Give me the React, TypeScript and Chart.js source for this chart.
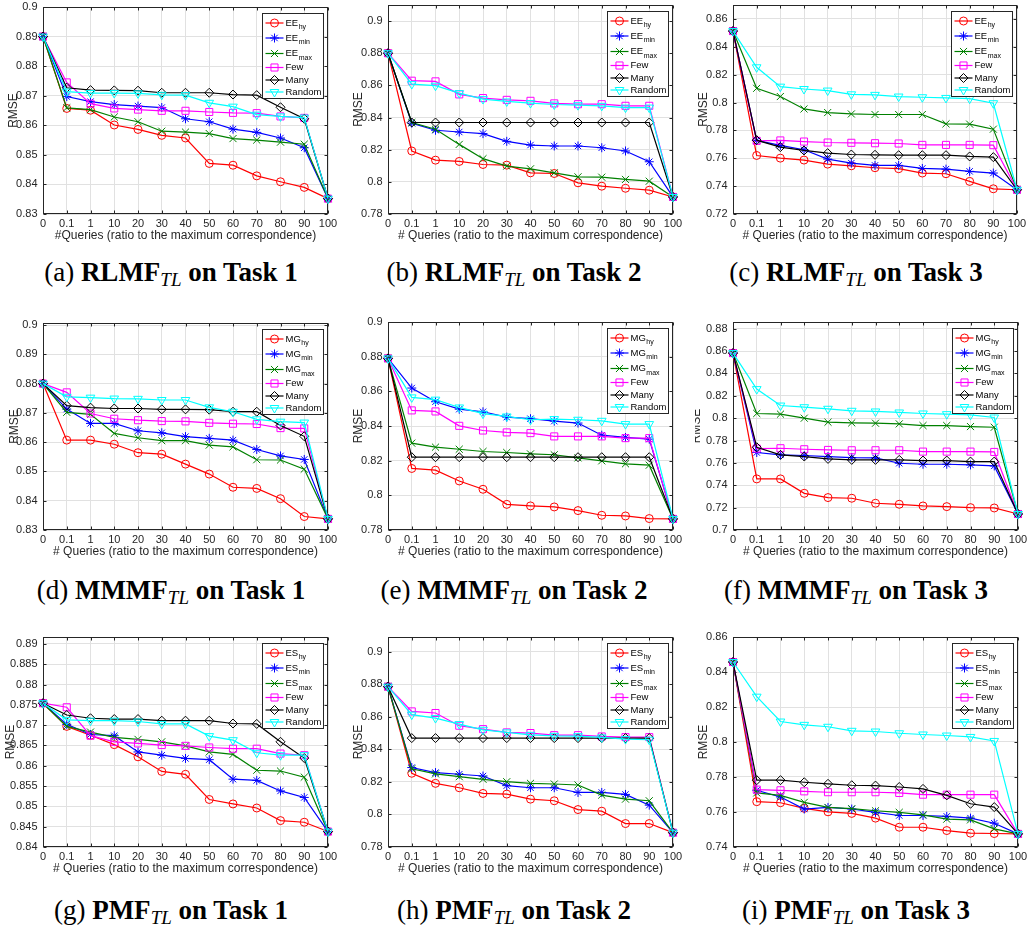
import React, { useEffect, useRef } from 'react';
import { Chart, registerables } from 'chart.js';

Chart.register(...registerables);

const queryLabels = ['0', '0.1', '1', '10', '20', '30', '40', '50', '60', '70', '80', '90', '100'];

const yTicksA = [0.83, 0.84, 0.85, 0.86, 0.87, 0.88, 0.89, 0.9];
const yTicksB = [0.78, 0.8, 0.82, 0.84, 0.86, 0.88, 0.9];
const yTicksC = [0.72, 0.74, 0.76, 0.78, 0.8, 0.82, 0.84, 0.86];
const yTicksF = [0.7, 0.72, 0.74, 0.76, 0.78, 0.8, 0.82, 0.84, 0.86, 0.88];
const yTicksG = [0.84, 0.845, 0.85, 0.855, 0.86, 0.865, 0.87, 0.875, 0.88, 0.885, 0.89];
const yTicksI = [0.74, 0.76, 0.78, 0.8, 0.82, 0.84, 0.86];

// (a) RLMF Task 1
const a_hy = [0.89, 0.8657, 0.8651, 0.8601, 0.8586, 0.8566, 0.8557, 0.8471, 0.8465, 0.8429, 0.8409, 0.839, 0.8352];
const a_min = [0.89, 0.8697, 0.868, 0.867, 0.8665, 0.866, 0.8622, 0.8612, 0.8587, 0.8576, 0.8557, 0.8524, 0.8352];
const a_max = [0.89, 0.8659, 0.8653, 0.8628, 0.8612, 0.858, 0.8577, 0.8572, 0.8555, 0.855, 0.8543, 0.8536, 0.8352];
const a_few = [0.89, 0.8745, 0.8673, 0.8657, 0.8653, 0.8649, 0.8649, 0.8645, 0.8642, 0.8641, 0.863, 0.8625, 0.8352];
const a_many = [0.89, 0.8727, 0.8719, 0.8718, 0.8717, 0.871, 0.871, 0.871, 0.8704, 0.8702, 0.8661, 0.8622, 0.8352];
const a_rand = [0.89, 0.8714, 0.8709, 0.8709, 0.8708, 0.8703, 0.8702, 0.8676, 0.8663, 0.8636, 0.863, 0.8626, 0.8352];

// (b) RLMF Task 2
const b_hy = [0.88, 0.8192, 0.8135, 0.8127, 0.8108, 0.8104, 0.8056, 0.8052, 0.7994, 0.7973, 0.796, 0.7948, 0.7906];
const b_min = [0.88, 0.8365, 0.8321, 0.831, 0.83, 0.8252, 0.8229, 0.8223, 0.8223, 0.8212, 0.8192, 0.8125, 0.7906];
const b_max = [0.88, 0.8369, 0.8327, 0.8233, 0.8144, 0.8098, 0.8081, 0.8056, 0.8031, 0.8029, 0.8015, 0.8004, 0.7906];
const b_few = [0.88, 0.8629, 0.8625, 0.8544, 0.8521, 0.851, 0.8504, 0.8488, 0.8483, 0.8483, 0.8473, 0.8473, 0.7906];
const b_many = [0.88, 0.8369, 0.8369, 0.8369, 0.8369, 0.8369, 0.8369, 0.8369, 0.8369, 0.8369, 0.8369, 0.8369, 0.7906];
const b_rand = [0.88, 0.8608, 0.8598, 0.8552, 0.8515, 0.85, 0.849, 0.8481, 0.8477, 0.8473, 0.8462, 0.8462, 0.7906];

// (c) RLMF Task 3
const c_hy = [0.8513, 0.762, 0.7601, 0.7587, 0.7558, 0.7546, 0.7532, 0.7525, 0.7494, 0.7489, 0.7434, 0.7381, 0.7374];
const c_min = [0.8513, 0.7728, 0.7692, 0.7661, 0.7594, 0.7565, 0.7549, 0.7549, 0.7527, 0.7522, 0.7506, 0.7494, 0.7374];
const c_max = [0.8513, 0.8102, 0.8043, 0.7954, 0.7928, 0.7918, 0.7914, 0.7914, 0.7914, 0.7847, 0.7845, 0.7809, 0.7374];
const c_few = [0.8513, 0.7725, 0.7728, 0.772, 0.7713, 0.7711, 0.7708, 0.7706, 0.7696, 0.7696, 0.7696, 0.7694, 0.7374];
const c_many = [0.8513, 0.773, 0.768, 0.7656, 0.7637, 0.7627, 0.7625, 0.7622, 0.7622, 0.7622, 0.7613, 0.7608, 0.7374];
const c_rand = [0.8513, 0.8253, 0.8114, 0.8097, 0.8086, 0.8059, 0.8055, 0.8043, 0.8038, 0.8033, 0.8028, 0.7995, 0.7374];

// (d) MMMF Task 1
const d_hy = [0.88, 0.8607, 0.8607, 0.8593, 0.8564, 0.8559, 0.8525, 0.8491, 0.8446, 0.8442, 0.8407, 0.8346, 0.8338];
const d_min = [0.88, 0.8713, 0.8664, 0.8664, 0.8639, 0.8632, 0.8619, 0.8613, 0.8607, 0.8575, 0.8553, 0.8541, 0.8338];
const d_max = [0.88, 0.8702, 0.8695, 0.863, 0.8615, 0.8605, 0.8605, 0.859, 0.8584, 0.854, 0.8539, 0.8508, 0.8338];
const d_few = [0.88, 0.877, 0.8698, 0.868, 0.8675, 0.8672, 0.8671, 0.8666, 0.8663, 0.8662, 0.8648, 0.8647, 0.8338];
const d_many = [0.88, 0.8725, 0.8718, 0.8715, 0.8715, 0.8712, 0.8712, 0.8711, 0.8704, 0.8704, 0.8657, 0.862, 0.8338];
const d_rand = [0.88, 0.8755, 0.8752, 0.8749, 0.8748, 0.8744, 0.8744, 0.8719, 0.8704, 0.8678, 0.867, 0.8667, 0.8338];

// (e) MMMF Task 2
const e_hy = [0.879, 0.8155, 0.8145, 0.8083, 0.8035, 0.7948, 0.7939, 0.7933, 0.7912, 0.7885, 0.7881, 0.7866, 0.7864];
const e_min = [0.879, 0.8619, 0.854, 0.8497, 0.8482, 0.8451, 0.8442, 0.8428, 0.8417, 0.8347, 0.8334, 0.8324, 0.7864];
const e_max = [0.879, 0.8301, 0.8278, 0.8266, 0.8253, 0.8247, 0.8239, 0.8234, 0.8216, 0.8199, 0.8182, 0.8174, 0.7864];
const e_few = [0.879, 0.849, 0.8484, 0.8401, 0.8374, 0.8363, 0.8359, 0.834, 0.834, 0.834, 0.833, 0.833, 0.7864];
const e_many = [0.879, 0.822, 0.822, 0.822, 0.822, 0.822, 0.822, 0.822, 0.822, 0.822, 0.822, 0.822, 0.7864];
const e_rand = [0.879, 0.8565, 0.8552, 0.8507, 0.8471, 0.8455, 0.8436, 0.844, 0.8436, 0.843, 0.8411, 0.8411, 0.7864];

// (f) MMMF Task 3
const f_hy = [0.8582, 0.7457, 0.7457, 0.7328, 0.729, 0.7284, 0.7239, 0.723, 0.7215, 0.7209, 0.72, 0.7197, 0.7143];
const f_min = [0.8582, 0.7693, 0.7672, 0.7666, 0.7657, 0.7648, 0.7645, 0.7597, 0.7588, 0.7588, 0.7582, 0.7573, 0.7143];
const f_max = [0.8582, 0.8042, 0.8036, 0.8, 0.7964, 0.7958, 0.7955, 0.7949, 0.7934, 0.7934, 0.7925, 0.7919, 0.7143];
const f_few = [0.8582, 0.7728, 0.7731, 0.7722, 0.7716, 0.7713, 0.7713, 0.7713, 0.7701, 0.7701, 0.7701, 0.7698, 0.7143];
const f_many = [0.8582, 0.774, 0.7672, 0.7657, 0.7636, 0.7627, 0.7627, 0.7627, 0.7621, 0.7621, 0.7612, 0.7612, 0.7143];
const f_rand = [0.8582, 0.826, 0.8113, 0.8098, 0.8084, 0.8066, 0.806, 0.8051, 0.8042, 0.8036, 0.803, 0.8006, 0.7143];

// (g) PMF Task 1
const g_hy = [0.8754, 0.8697, 0.8675, 0.8652, 0.8622, 0.8586, 0.8579, 0.8517, 0.8506, 0.8496, 0.8465, 0.8461, 0.8438];
const g_min = [0.8754, 0.8702, 0.8677, 0.8674, 0.8634, 0.8626, 0.8618, 0.8615, 0.8567, 0.8564, 0.8538, 0.8522, 0.8438];
const g_max = [0.8754, 0.8697, 0.8683, 0.867, 0.8665, 0.8659, 0.8649, 0.8634, 0.8628, 0.8589, 0.8587, 0.8572, 0.8438];
const g_few = [0.8754, 0.8744, 0.8674, 0.8659, 0.8655, 0.8651, 0.8649, 0.8645, 0.8642, 0.8642, 0.863, 0.8626, 0.8438];
const g_many = [0.8754, 0.8725, 0.8717, 0.8715, 0.8715, 0.8711, 0.8711, 0.8711, 0.8704, 0.8703, 0.8659, 0.8619, 0.8438];
const g_rand = [0.8754, 0.8713, 0.8711, 0.8711, 0.8709, 0.8703, 0.8703, 0.8673, 0.8663, 0.8632, 0.8626, 0.8626, 0.8438];

// (h) PMF Task 2
const h_hy = [0.8785, 0.8253, 0.8191, 0.8164, 0.8129, 0.8125, 0.8094, 0.8084, 0.803, 0.802, 0.7944, 0.7944, 0.7888];
const h_min = [0.8785, 0.8288, 0.8257, 0.8247, 0.8236, 0.8177, 0.8164, 0.8164, 0.8135, 0.8135, 0.8123, 0.8057, 0.7888];
const h_max = [0.8785, 0.828, 0.8249, 0.8232, 0.8216, 0.8201, 0.8191, 0.8187, 0.8181, 0.8119, 0.8094, 0.8084, 0.7888];
const h_few = [0.8785, 0.8633, 0.8623, 0.8545, 0.8524, 0.8504, 0.85, 0.8487, 0.8487, 0.8479, 0.8475, 0.8475, 0.7888];
const h_many = [0.8785, 0.8469, 0.8469, 0.8469, 0.8469, 0.8469, 0.8469, 0.8469, 0.8469, 0.8469, 0.8469, 0.8469, 0.7888];
const h_rand = [0.8785, 0.8613, 0.8592, 0.8555, 0.852, 0.8504, 0.8489, 0.8483, 0.8481, 0.8473, 0.8463, 0.8459, 0.7888];

// (i) PMF Task 3
const i_hy = [0.8457, 0.7659, 0.7653, 0.7621, 0.7601, 0.7592, 0.7565, 0.7513, 0.7513, 0.7494, 0.7479, 0.7477, 0.7475];
const i_min = [0.8457, 0.7724, 0.7686, 0.7617, 0.7626, 0.7617, 0.7598, 0.758, 0.758, 0.7575, 0.7565, 0.7536, 0.7475];
const i_max = [0.8457, 0.7709, 0.7695, 0.7655, 0.7626, 0.7619, 0.7607, 0.7598, 0.7584, 0.7559, 0.7555, 0.7504, 0.7475];
const i_few = [0.8457, 0.7728, 0.7724, 0.7718, 0.7713, 0.7713, 0.7713, 0.7709, 0.7699, 0.7699, 0.7699, 0.7699, 0.7475];
const i_many = [0.8457, 0.7782, 0.7782, 0.777, 0.7761, 0.7753, 0.7751, 0.7743, 0.7732, 0.7695, 0.7647, 0.7628, 0.7475];
const i_rand = [0.8457, 0.8259, 0.8117, 0.8098, 0.8087, 0.8064, 0.806, 0.805, 0.8043, 0.8037, 0.8029, 0.8006, 0.7475];

const seriesSubs = ['hy', 'min', 'max'];
const seriesPlain = ['Few', 'Many', 'Random'];
const captionLetters = ['a', 'b', 'c', 'd', 'e', 'f', 'g', 'h', 'i'];
const captionModels = ['RLMF', 'RLMF', 'RLMF', 'MMMF', 'MMMF', 'MMMF', 'PMF', 'PMF', 'PMF'];
const captionTasks = ['1', '2', '3', '1', '2', '3', '1', '2', '3'];

const SANS = '"Liberation Sans", Arial, Helvetica, sans-serif';
const SERIF = '"Liberation Serif", "Times New Roman", Times, serif';
const AXIS = '#262626';
const GRID = '#e1e1e1';

const colors = ['#ff0000', '#0000ff', '#008000', '#ff00ff', '#000000', '#00ffff'];
const pointStyles = ['circle', 'star', 'crossRot', 'rect', 'rectRot', 'triangle'];
const pointRotations = [0, 0, 0, 0, 0, 180];
const pointRadii = [4, 4.5, 5, 5, 4.5, 5];

type PanelSpec = {
  series: number[][];
  prefix: string;
  yTicks: number[];
  yMin: number;
  yMax: number;
  l: number;
  r: number;
  t: number;
  b: number;
  canvasLeft: number;
  yTitlePad: number;
  xTitle: string;
};

const XT1 = '#Queries (ratio to the maximum correspondence)';
const XT = '# Queries (ratio to the maximum correspondence)';

const panels: PanelSpec[] = [
  { series: [a_hy, a_min, a_max, a_few, a_many, a_rand], prefix: 'EE', yTicks: yTicksA, yMin: 0.83, yMax: 0.9, l: 43, r: 328, t: 7, b: 214, canvasLeft: 0, yTitlePad: 6, xTitle: XT1 },
  { series: [b_hy, b_min, b_max, b_few, b_many, b_rand], prefix: 'EE', yTicks: yTicksB, yMin: 0.78, yMax: 0.91, l: 388, r: 673, t: 5, b: 214, canvasLeft: 345, yTitlePad: 6, xTitle: XT },
  { series: [c_hy, c_min, c_max, c_few, c_many, c_rand], prefix: 'EE', yTicks: yTicksC, yMin: 0.72, yMax: 0.87, l: 733, r: 1017, t: 5, b: 214, canvasLeft: 690, yTitlePad: 6, xTitle: XT },
  { series: [d_hy, d_min, d_max, d_few, d_many, d_rand], prefix: 'MG', yTicks: yTicksA, yMin: 0.83, yMax: 0.9007, l: 43, r: 328, t: 323, b: 530, canvasLeft: 0, yTitlePad: 7, xTitle: XT },
  { series: [e_hy, e_min, e_max, e_few, e_many, e_rand], prefix: 'MG', yTicks: yTicksB, yMin: 0.78, yMax: 0.9, l: 388, r: 673, t: 322, b: 530, canvasLeft: 345, yTitlePad: 6, xTitle: XT },
  { series: [f_hy, f_min, f_max, f_few, f_many, f_rand], prefix: 'MG', yTicks: yTicksF, yMin: 0.7, yMax: 0.886, l: 733, r: 1018, t: 322, b: 530, canvasLeft: 695, yTitlePad: -5.2, xTitle: XT },
  { series: [g_hy, g_min, g_max, g_few, g_many, g_rand], prefix: 'ES', yTicks: yTicksG, yMin: 0.84, yMax: 0.8917, l: 43, r: 328, t: 637, b: 847, canvasLeft: 0, yTitlePad: 3, xTitle: XT },
  { series: [h_hy, h_min, h_max, h_few, h_many, h_rand], prefix: 'ES', yTicks: yTicksB, yMin: 0.78, yMax: 0.909, l: 388, r: 673, t: 637, b: 847, canvasLeft: 345, yTitlePad: 6, xTitle: XT },
  { series: [i_hy, i_min, i_max, i_few, i_many, i_rand], prefix: 'ES', yTicks: yTicksI, yMin: 0.74, yMax: 0.86, l: 733, r: 1018, t: 637, b: 847, canvasLeft: 690, yTitlePad: 6, xTitle: XT },
];

function drawMarker(ctx: CanvasRenderingContext2D, kind: string, x: number, y: number, r: number) {
  ctx.beginPath();
  if (kind === 'circle') {
    ctx.arc(x, y, r, 0, Math.PI * 2);
  } else if (kind === 'star') {
    const d = r * Math.SQRT1_2;
    ctx.moveTo(x - r, y); ctx.lineTo(x + r, y);
    ctx.moveTo(x, y - r); ctx.lineTo(x, y + r);
    ctx.moveTo(x - d, y - d); ctx.lineTo(x + d, y + d);
    ctx.moveTo(x - d, y + d); ctx.lineTo(x + d, y - d);
  } else if (kind === 'crossRot') {
    const d = r * Math.SQRT1_2;
    ctx.moveTo(x - d, y - d); ctx.lineTo(x + d, y + d);
    ctx.moveTo(x - d, y + d); ctx.lineTo(x + d, y - d);
  } else if (kind === 'rect') {
    const s = r * Math.SQRT1_2;
    ctx.rect(x - s, y - s, 2 * s, 2 * s);
  } else if (kind === 'rectRot') {
    ctx.moveTo(x, y - r); ctx.lineTo(x + r, y); ctx.lineTo(x, y + r); ctx.lineTo(x - r, y); ctx.closePath();
  } else if (kind === 'triangle') {
    ctx.moveTo(x, y + r);
    ctx.lineTo(x - r * 0.866, y - r * 0.5);
    ctx.lineTo(x + r * 0.866, y - r * 0.5);
    ctx.closePath();
  }
  ctx.stroke();
}

const PT = 10;
const PR = 10;
const XH = 30;
const legendRows = [9.5, 24.5, 40, 54, 66.5, 78.5];

function Panel({ spec }: { spec: PanelSpec }) {
  const ref = useRef<HTMLCanvasElement>(null);
  const width = spec.r + PR - spec.canvasLeft;
  const height = PT + (spec.b - spec.t) + XH;
  const yw = spec.l - spec.canvasLeft;

  useEffect(() => {
    const canvas = ref.current;
    if (!canvas) return;
    const labels: string[][] = [
      [spec.prefix, seriesSubs[0]],
      [spec.prefix, seriesSubs[1]],
      [spec.prefix, seriesSubs[2]],
      [seriesPlain[0]],
      [seriesPlain[1]],
      [seriesPlain[2]],
    ];
    const datasets = spec.series.map((data, i) => ({
      label: labels[i].join('_'),
      data,
      borderColor: colors[i],
      backgroundColor: 'rgba(0,0,0,0)',
      borderWidth: 1.2,
      pointStyle: pointStyles[i] as any,
      pointRotation: pointRotations[i],
      pointRadius: pointRadii[i],
      pointHoverRadius: pointRadii[i],
      pointBorderColor: colors[i],
      pointBackgroundColor: 'rgba(0,0,0,0)',
      pointBorderWidth: 1,
      tension: 0,
      clip: false as any,
      order: 5 - i,
    }));

    const framePlugin = {
      id: 'frameLegend',
      beforeDatasetsDraw(chart: any) {
        const { ctx, chartArea: a, scales } = chart;
        ctx.save();
        ctx.strokeStyle = AXIS;
        ctx.lineWidth = 1;
        const L = Math.round(a.left) + 0.5;
        const R = Math.round(a.right) - 0.5;
        const T = Math.round(a.top) + 0.5;
        const B = Math.round(a.bottom) - 0.5;
        ctx.strokeRect(L, T, R - L, B - T);
        ctx.beginPath();
        const xs = scales.x;
        xs.ticks.forEach((_: any, i: number) => {
          const px = Math.round(xs.getPixelForTick(i)) + 0.5;
          ctx.moveTo(px, B); ctx.lineTo(px, B - 3);
          ctx.moveTo(px, T); ctx.lineTo(px, T + 3);
        });
        const ys = scales.y;
        ys.ticks.forEach((t: any) => {
          const py = Math.round(ys.getPixelForValue(t.value)) + 0.5;
          ctx.moveTo(L, py); ctx.lineTo(L + 3, py);
          ctx.moveTo(R, py); ctx.lineTo(R - 3, py);
        });
        ctx.stroke();
        ctx.restore();
      },
      afterDatasetsDraw(chart: any) {
        const { ctx, chartArea: a } = chart;
        ctx.save();
        const bw = 61;
        const bh = 85;
        const bx = Math.round(a.right - 5 - bw) + 0.5;
        const by = Math.round(a.top + 6) + 0.5;
        ctx.fillStyle = '#ffffff';
        ctx.fillRect(bx, by, bw, bh);
        ctx.strokeStyle = AXIS;
        ctx.lineWidth = 1;
        ctx.strokeRect(bx, by, bw, bh);
        legendRows.forEach((dy, i) => {
          const y = by + dy;
          ctx.strokeStyle = colors[i];
          ctx.lineWidth = 1.2;
          ctx.beginPath();
          ctx.moveTo(bx + 3, y);
          ctx.lineTo(bx + 21, y);
          ctx.stroke();
          ctx.lineWidth = 1;
          drawMarker(ctx, pointStyles[i], bx + 12, y, pointRadii[i]);
          ctx.fillStyle = '#000000';
          ctx.textAlign = 'left';
          ctx.textBaseline = 'middle';
          ctx.font = `9.5px ${SANS}`;
          const [main, sub] = labels[i];
          ctx.fillText(main, bx + 23, y);
          if (sub) {
            const w = ctx.measureText(main).width;
            ctx.font = `7px ${SANS}`;
            ctx.fillText(sub, bx + 23 + w + 0.5, y + 4.5);
          }
        });
        ctx.restore();
      },
    };

    const chart = new Chart(canvas, {
      type: 'line',
      data: { labels: queryLabels, datasets },
      options: {
        animation: false,
        responsive: false,
        maintainAspectRatio: false,
        events: [],
        layout: { padding: { left: 0, top: PT, right: PR, bottom: 0 } },
        plugins: { legend: { display: false }, tooltip: { enabled: false } },
        scales: {
          x: {
            type: 'category',
            offset: false,
            grid: { color: GRID, lineWidth: 1, drawTicks: false },
            border: { display: false },
            ticks: {
              font: { family: SANS, size: 11 },
              color: AXIS,
              padding: 3.4,
              autoSkip: false,
              maxRotation: 0,
              minRotation: 0,
            },
            title: {
              display: true,
              text: spec.xTitle,
              font: { family: SANS, size: 12 },
              color: AXIS,
              padding: { top: 0, bottom: 0.8 },
            },
            afterFit: (s: any) => {
              s.height = XH;
              s.paddingLeft = 0; s.paddingRight = 0; s.paddingTop = 0; s.paddingBottom = 0;
            },
          },
          y: {
            type: 'linear',
            min: spec.yMin,
            max: spec.yMax,
            afterBuildTicks: (s: any) => {
              s.ticks = spec.yTicks.map((v) => ({ value: v }));
            },
            grid: { color: GRID, lineWidth: 1, drawTicks: false },
            border: { display: false },
            ticks: {
              font: { family: SANS, size: 11 },
              color: AXIS,
              padding: 5.5,
              autoSkip: false,
              callback: (v: any) => String(v),
            },
            title: {
              display: true,
              text: 'RMSE',
              font: { family: SANS, size: 12 },
              color: AXIS,
              padding: { top: spec.yTitlePad, bottom: 0 },
            },
            afterFit: (s: any) => {
              s.width = yw;
              s.paddingLeft = 0; s.paddingRight = 0; s.paddingTop = 0; s.paddingBottom = 0;
            },
          },
        },
      } as any,
      plugins: [framePlugin],
    });
    return () => chart.destroy();
  }, []);

  return (
    <canvas
      ref={ref}
      width={width}
      height={height}
      style={{ position: 'absolute', left: spec.canvasLeft, top: spec.t - PT, width, height }}
    />
  );
}

const captionCenters = [171, 514, 856];
const captionBaselines = [281, 599, 919];

export default function App() {
  return (
    <div style={{ position: 'absolute', left: 0, top: 0, width: 1028, height: 927, overflow: 'hidden', background: '#ffffff' }}>
      {panels.map((p, i) => (
        <Panel key={i} spec={p} />
      ))}
      {captionLetters.map((letter, i) => {
        const cx = captionCenters[i % 3];
        const base = captionBaselines[Math.floor(i / 3)];
        return (
          <div
            key={'cap' + i}
            style={{
              position: 'absolute',
              left: cx - 171,
              width: 342,
              top: base - 24,
              height: 30,
              lineHeight: '30px',
              textAlign: 'center',
              fontFamily: SERIF,
              fontSize: 27,
              color: '#000',
              whiteSpace: 'nowrap',
            }}
          >
            ({letter}){' '}
            <b>
              {captionModels[i]}
              <sub style={{ fontSize: 19, fontStyle: 'italic', fontWeight: 'normal', verticalAlign: '-5px', lineHeight: 0 }}>TL</sub>
              {' on Task ' + captionTasks[i]}
            </b>
          </div>
        );
      })}
    </div>
  );
}
